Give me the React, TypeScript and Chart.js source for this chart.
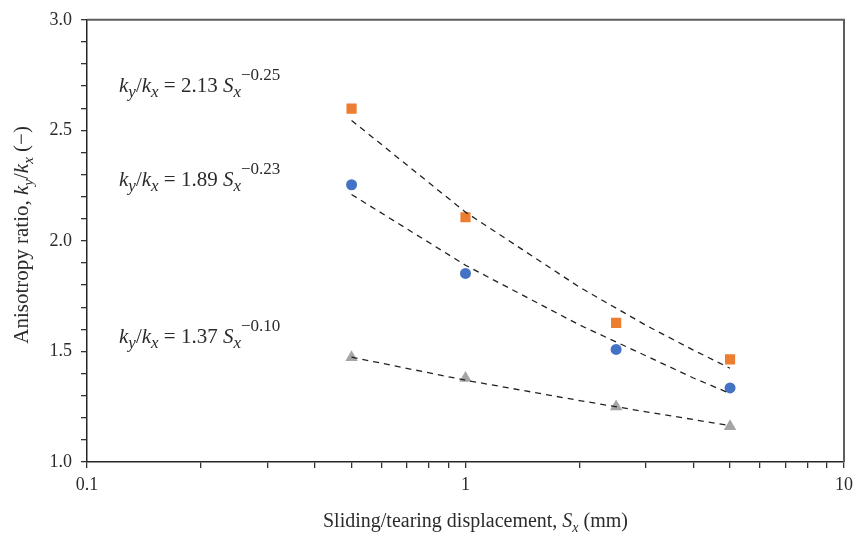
import React, { useEffect, useRef } from "react";
import { Chart, registerables } from "chart.js";

Chart.register(...registerables);

// ---- data ----
const xValues = [0.5, 1, 2.5, 5];
const orangeValues = [2.598, 2.107, 1.629, 1.464];
const blueValues = [2.254, 1.853, 1.509, 1.335];
const grayValues = [1.473, 1.379, 1.25, 1.161];

const trendX = [0.5, 1, 2, 3, 4, 5];
const orangeTrend = [2.545, 2.13, 1.791, 1.618, 1.506, 1.424];
const blueTrend = [2.21, 1.89, 1.62, 1.48, 1.38, 1.31];
const grayTrend = [1.474, 1.37, 1.278, 1.227, 1.192, 1.164];

const xTickValues = [0.1, 0.2, 0.3, 0.4, 0.5, 0.6, 0.7, 0.8, 0.9, 1, 2, 3, 4, 5, 6, 7, 8, 9, 10];
const xTickLabels = ["0.1", "1", "10"];

const equations = [
  { x: 0.1215, y: 2.674, coef: "2.13", exp: "\u22120.25" },
  { x: 0.1215, y: 2.25, coef: "1.89", exp: "\u22120.23" },
  { x: 0.1215, y: 1.54, coef: "1.37", exp: "\u22120.10" },
];

const FAMILY = "'Liberation Serif', 'DejaVu Serif', serif";
const TEXT = "#2b2b2b";

type Seg = { t: string; s: "n" | "i" | "sub" | "sup" };

function fontFor(seg: Seg, size: number, ratio: number) {
  const small = Math.round(size * ratio);
  if (seg.s === "n") return `${size}px ${FAMILY}`;
  if (seg.s === "i") return `italic ${size}px ${FAMILY}`;
  if (seg.s === "sub") return `italic ${small}px ${FAMILY}`;
  return `${small}px ${FAMILY}`;
}

function richWidth(ctx: CanvasRenderingContext2D, segs: Seg[], size: number, ratio = 0.72) {
  let w = 0;
  for (const sg of segs) {
    ctx.font = fontFor(sg, size, ratio);
    w += ctx.measureText(sg.t).width;
  }
  return w;
}

function drawRich(ctx: CanvasRenderingContext2D, segs: Seg[], x: number, y: number, size: number, ratio = 0.72) {
  let cx = x;
  ctx.textBaseline = "alphabetic";
  ctx.textAlign = "left";
  for (const sg of segs) {
    ctx.font = fontFor(sg, size, ratio);
    let dy = 0;
    if (sg.s === "sub") dy = size * 0.25;
    if (sg.s === "sup") dy = -size * 0.55;
    ctx.fillText(sg.t, cx, y + dy);
    cx += ctx.measureText(sg.t).width;
  }
}

const textPlugin = {
  id: "richText",
  afterDraw(chart: any) {
    const ctx: CanvasRenderingContext2D = chart.ctx;
    const { left, right, top, bottom } = chart.chartArea;
    const xs = chart.scales.x;
    const ys = chart.scales.y;
    ctx.save();
    // top and right frame
    ctx.strokeStyle = "#5e5e5e";
    ctx.lineWidth = 2;
    ctx.beginPath();
    ctx.moveTo(left, top);
    ctx.lineTo(right, top);
    ctx.lineTo(right, bottom);
    ctx.stroke();

    ctx.fillStyle = TEXT;
    // equations
    for (const eq of equations) {
      const segs: Seg[] = [
        { t: "k", s: "i" },
        { t: "y", s: "sub" },
        { t: "/", s: "n" },
        { t: "k", s: "i" },
        { t: "x", s: "sub" },
        { t: " = " + eq.coef + " ", s: "n" },
        { t: "S", s: "i" },
        { t: "x", s: "sub" },
        { t: eq.exp, s: "sup" },
      ];
      drawRich(ctx, segs, xs.getPixelForValue(eq.x), ys.getPixelForValue(eq.y), 21, 0.8);
    }

    // x title
    const xt: Seg[] = [
      { t: "Sliding/tearing displacement, ", s: "n" },
      { t: "S", s: "i" },
      { t: "x", s: "sub" },
      { t: " (mm)", s: "n" },
    ];
    const xw = richWidth(ctx, xt, 20);
    drawRich(ctx, xt, (left + right) / 2 + 10 - xw / 2, 527, 20);

    // y title
    const yt: Seg[] = [
      { t: "Anisotropy ratio, ", s: "n" },
      { t: "k", s: "i" },
      { t: "y", s: "sub" },
      { t: "/", s: "n" },
      { t: "k", s: "i" },
      { t: "x", s: "sub" },
      { t: " (\u2212)", s: "n" },
    ];
    const yw = richWidth(ctx, yt, 21);
    ctx.translate(28, (top + bottom) / 2 - 6);
    ctx.rotate(-Math.PI / 2);
    drawRich(ctx, yt, -yw / 2, 0, 21);
    ctx.restore();
  },
};

export default function App() {
  const ref = useRef<HTMLCanvasElement | null>(null);
  useEffect(() => {
    if (!ref.current) return;
    const pts = (ys: number[]) => xValues.map((x, i) => ({ x, y: ys[i] }));
    const tr = (ys: number[]) => trendX.map((x, i) => ({ x, y: ys[i] }));
    const dashed = (data: any) => ({
      data,
      showLine: true,
      borderColor: "#222222",
      borderWidth: 1.3,
      borderDash: [6, 5],
      pointRadius: 0,
      fill: false,
      order: 0,
    });
    const chart = new Chart(ref.current, {
      type: "scatter",
      data: {
        datasets: [
          dashed(tr(orangeTrend)),
          dashed(tr(blueTrend)),
          dashed(tr(grayTrend)),
          {
            data: pts(orangeValues),
            pointStyle: "rect",
            pointRadius: 7.2,
            backgroundColor: "#ED7D31",
            borderColor: "#ED7D31",
            borderWidth: 0,
            order: 1,
          },
          {
            data: pts(blueValues),
            pointStyle: "circle",
            pointRadius: 5.5,
            backgroundColor: "#4472C4",
            borderColor: "#4472C4",
            borderWidth: 0,
            order: 1,
          },
          {
            data: pts(grayValues),
            pointStyle: "triangle",
            pointRadius: 7.2,
            backgroundColor: "#A5A5A5",
            borderColor: "#A5A5A5",
            borderWidth: 0,
            order: 1,
          },
        ] as any,
      },
      options: {
        responsive: false,
        animation: false,
        devicePixelRatio: 1,
        layout: { padding: { left: 0, top: 14, right: 14, bottom: 0 } },
        plugins: { legend: { display: false }, tooltip: { enabled: false } },
        scales: {
          x: {
            type: "logarithmic",
            min: 0.1,
            max: 10,
            afterBuildTicks: (scale: any) => {
              scale.ticks = xTickValues.map((v) => ({ value: v }));
            },
            afterFit: (scale: any) => {
              scale.height = 73;
            },
            grid: {
              drawOnChartArea: false,
              drawTicks: true,
              tickLength: 6,
              color: "#333333",
              lineWidth: 1.3,
            },
            border: { display: true, color: "#262626", width: 1.5 },
            ticks: {
              autoSkip: false,
              maxRotation: 0,
              padding: 6,
              color: TEXT,
              font: { family: FAMILY, size: 18 },
              callback: (v: any) => {
                const s = String(Number(v));
                return xTickLabels.includes(s) ? s : "";
              },
            },
          },
          y: {
            type: "linear",
            min: 1,
            max: 3,
            afterFit: (scale: any) => {
              scale.width = 87;
            },
            grid: {
              drawOnChartArea: false,
              drawTicks: true,
              tickLength: 6,
              color: "#333333",
              lineWidth: 1.3,
            },
            border: { display: true, color: "#262626", width: 1.5 },
            ticks: {
              stepSize: 0.1,
              autoSkip: false,
              padding: 9,
              color: TEXT,
              font: { family: FAMILY, size: 18 },
              callback: (v: any) => {
                const n = Math.round(Number(v) * 10);
                return n % 5 === 0 ? (n / 10).toFixed(1) : "";
              },
            },
          },
        },
      },
      plugins: [textPlugin],
    } as any);
    return () => chart.destroy();
  }, []);
  return (
    <div style={{ position: "absolute", left: 0, top: 0, width: 859, height: 535, background: "#fff" }}>
      <canvas ref={ref} width={859} height={535} />
    </div>
  );
}
